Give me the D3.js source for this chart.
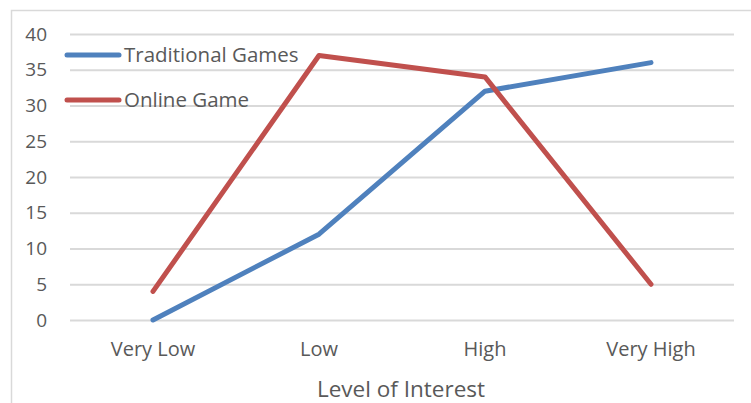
<!DOCTYPE html>
<html><head><meta charset="utf-8">
<script src="https://cdn.jsdelivr.net/npm/d3@7"></script>
<style>body{margin:0;background:#fff}svg{display:block}text{font-family:"Open Sans","Noto Sans",sans-serif;fill:#595959}</style>
</head><body><svg id="c" width="751" height="403"></svg>
<script>
const categories = ["Very Low", "Low", "High", "Very High"];
const traditionalGames = [0, 12, 32, 36];
const onlineGame = [4, 37, 34, 5];
const yTicks = [0, 5, 10, 15, 20, 25, 30, 35, 40];
const seriesNames = ["Traditional Games", "Online Game"];
const colors = ["#4F81BD", "#C0504D"];

const svg = d3.select("#c");
const L = 70, R = 734, T = 34, B = 320;
const x = d3.scaleBand().domain(categories).range([L, R]);
const y = d3.scaleLinear().domain([0, 40]).range([B, T]);

svg.append("path").attr("d", "M11.5,403 V10.5 H751").attr("fill", "none").attr("stroke", "#d9d9d9").attr("stroke-width", 1.5);

const gy = svg.append("g").attr("transform", `translate(${L},0)`)
  .call(d3.axisLeft(y).tickValues(yTicks).tickSize(-(R - L)).tickPadding(23));
gy.select(".domain").remove();
gy.selectAll("line").attr("stroke", "#d9d9d9").attr("stroke-width", 2);
gy.selectAll("text").attr("font-size", 19).attr("fill", "#595959").style("font-family", '"Open Sans",sans-serif');

const gx = svg.append("g").attr("transform", `translate(0,${B})`)
  .call(d3.axisBottom(x).tickSize(0).tickPadding(22));
gx.select(".domain").remove();
gx.selectAll("text").attr("font-size", 20).attr("fill", "#595959").style("font-family", '"Open Sans",sans-serif');

svg.append("text").attr("x", 401).attr("y", 397).attr("text-anchor", "middle")
  .attr("font-size", 22.5).text("Level of Interest");

const line = d3.line().x((d, i) => x(categories[i]) + x.bandwidth() / 2).y(d => y(d));
[traditionalGames, onlineGame].forEach((s, i) => {
  svg.append("path").datum(s).attr("d", line).attr("fill", "none")
    .attr("stroke", colors[i]).attr("stroke-width", 5).attr("stroke-linejoin", "round").attr("stroke-linecap", "round");
});

const legY = [55, 100];
seriesNames.forEach((n, i) => {
  svg.append("line").attr("x1", 67).attr("x2", 119).attr("y1", legY[i]).attr("y2", legY[i])
    .attr("stroke", colors[i]).attr("stroke-width", 5).attr("stroke-linecap", "round");
  svg.append("text").attr("x", 124).attr("y", legY[i]).attr("dy", "0.35em").attr("font-size", 20.5).text(n);
});
</script></body></html>
